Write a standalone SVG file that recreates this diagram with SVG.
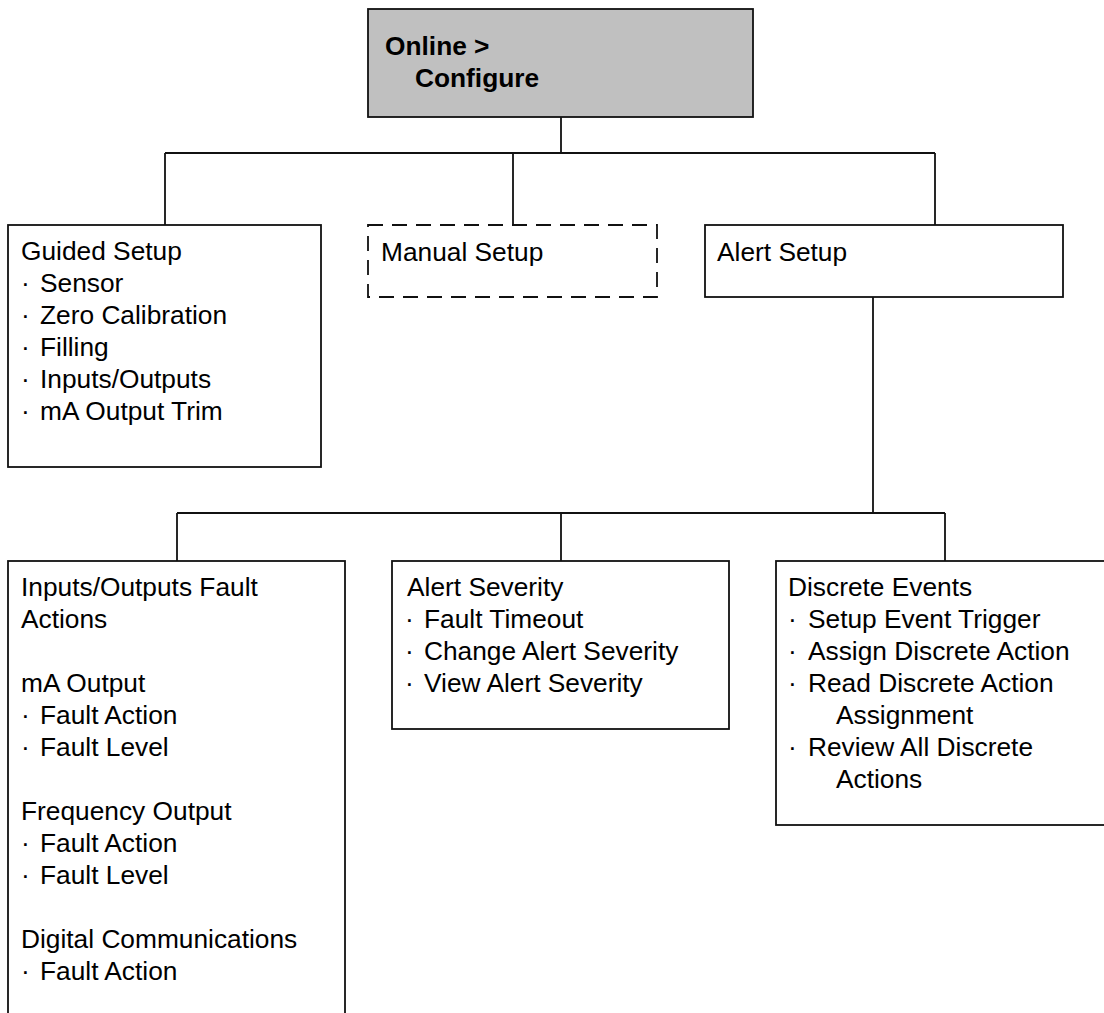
<svg xmlns="http://www.w3.org/2000/svg" width="1104" height="1013" viewBox="0 0 1104 1013">
<style>
.box{fill:#fff;stroke:#111;stroke-width:1.8}
.top{fill:#c0c0c0;stroke:#111;stroke-width:1.8}
.dash{fill:#fff;stroke:#111;stroke-width:1.8;stroke-dasharray:15 9}
.ln{fill:none;stroke:#111;stroke-width:1.8}
text{font-family:"Liberation Sans",Arial,sans-serif;font-size:26.3px;fill:#000}
.b{font-weight:bold}
</style>
<rect width="1104" height="1013" fill="#fff"/>
<g id="connectors">
<path class="ln" d="M561 117V153M165 153H935M165 153V225M513 153V225M935 153V225"/>
<path class="ln" d="M873 297V513M177 513H945M177 513V561M561 513V561M945 513V561"/>
</g>
<g id="online-configure">
<rect class="top" x="368" y="9" width="385" height="108"/>
<text class="b" x="385" y="55">Online &gt;</text>
<text class="b" x="415" y="87">Configure</text>
</g>
<g id="guided-setup">
<rect class="box" x="8" y="225" width="313" height="242"/>
<text x="21" y="260">Guided Setup</text>
<text x="21" y="292">·</text><text x="40" y="292">Sensor</text>
<text x="21" y="324">·</text><text x="40" y="324">Zero Calibration</text>
<text x="21" y="356">·</text><text x="40" y="356">Filling</text>
<text x="21" y="388">·</text><text x="40" y="388">Inputs/Outputs</text>
<text x="21" y="420">·</text><text x="40" y="420">mA Output Trim</text>
</g>
<g id="manual-setup">
<rect class="dash" x="368" y="225" width="289" height="72"/>
<text x="381" y="261">Manual Setup</text>
</g>
<g id="alert-setup">
<rect class="box" x="705" y="225" width="358" height="72"/>
<text x="717" y="261">Alert Setup</text>
</g>
<g id="io-fault-actions">
<rect class="box" x="8" y="561" width="337" height="470"/>
<text x="21" y="596">Inputs/Outputs Fault</text>
<text x="21" y="628">Actions</text>
<text x="21" y="692">mA Output</text>
<text x="21" y="724">·</text><text x="40" y="724">Fault Action</text>
<text x="21" y="756">·</text><text x="40" y="756">Fault Level</text>
<text x="21" y="820">Frequency Output</text>
<text x="21" y="852">·</text><text x="40" y="852">Fault Action</text>
<text x="21" y="884">·</text><text x="40" y="884">Fault Level</text>
<text x="21" y="948">Digital Communications</text>
<text x="21" y="980">·</text><text x="40" y="980">Fault Action</text>
</g>
<g id="alert-severity">
<rect class="box" x="392" y="561" width="337" height="168"/>
<text x="407" y="596">Alert Severity</text>
<text x="405" y="628">·</text><text x="424" y="628">Fault Timeout</text>
<text x="405" y="660">·</text><text x="424" y="660">Change Alert Severity</text>
<text x="405" y="692">·</text><text x="424" y="692">View Alert Severity</text>
</g>
<g id="discrete-events">
<rect class="box" x="776" y="561" width="340" height="264"/>
<text x="788" y="596">Discrete Events</text>
<text x="788" y="628">·</text><text x="808" y="628">Setup Event Trigger</text>
<text x="788" y="660">·</text><text x="808" y="660">Assign Discrete Action</text>
<text x="788" y="692">·</text><text x="808" y="692">Read Discrete Action</text>
<text x="836" y="724">Assignment</text>
<text x="788" y="756">·</text><text x="808" y="756">Review All Discrete</text>
<text x="836" y="788">Actions</text>
</g>
</svg>
